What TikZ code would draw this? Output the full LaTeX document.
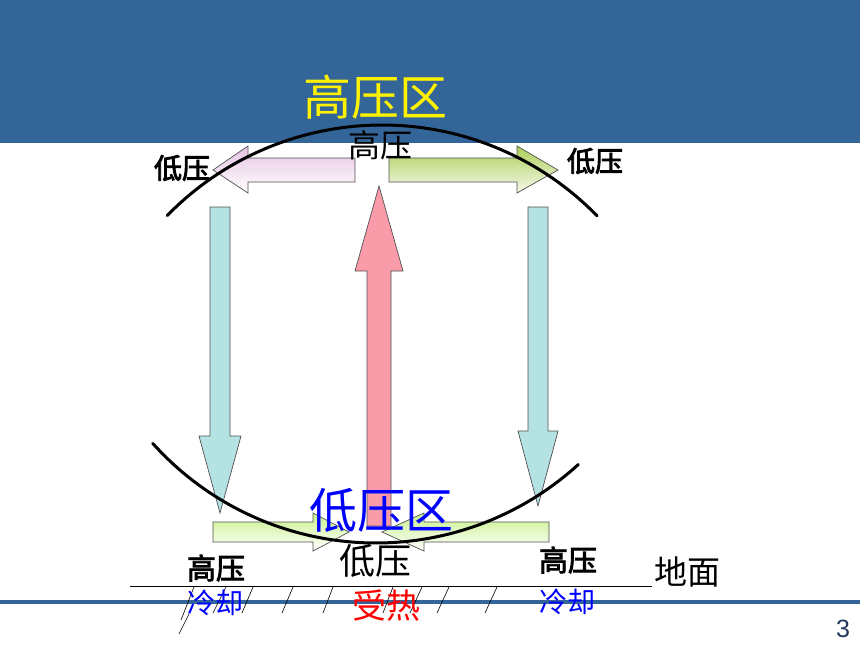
\documentclass[tikz,border=0pt]{standalone}
\usepackage{fontspec}
\newfontfamily\cjk{Noto Sans CJK SC}
\newfontfamily\cjkbf[FakeBold=3]{Noto Sans CJK SC}
\setsansfont{Liberation Sans}
\usetikzlibrary{calc,positioning}
\definecolor{slideblue}{RGB}{52,101,153}
\definecolor{coldfill}{RGB}{181,226,226}
\definecolor{warmfill}{RGB}{250,155,170}
\definecolor{edgegray}{RGB}{80,80,80}
\definecolor{pagenum}{RGB}{35,55,90}
\tikzset{>=latex}

\begin{document}
\begin{tikzpicture}[x=1pt, y=-1pt, font=\cjk,
    blockarrow/.style={draw=edgegray, line width=0.7pt, line join=miter},
    lbl/.style={inner sep=0pt, font=\cjk\fontsize{#1}{#1}\selectfont},
    lblbf/.style={inner sep=0pt, font=\cjkbf\fontsize{#1}{#1}\selectfont},
    isobar/.style={line width=3pt, line cap=round},
    hatch/.style={line width=0.6pt}]
		\useasboundingbox (0,0) rectangle (860,645);
		\fill[slideblue] (0,0) rectangle (860,143);
		\fill[slideblue] (0,600) rectangle (860,604);
		
		\node[lbl=48, text=yellow] (highzone) at (375,97) {高压区};
		
		\draw[blockarrow, top color={rgb,255:red,230;green,195;blue,228}, bottom color=white]
			(355,158) -- (248,158) -- (248,146) -- (213,170) -- (248,193) -- (248,182) -- (355,182) -- cycle;
		\draw[blockarrow, top color={rgb,255:red,172;green,206;blue,88}, bottom color={rgb,255:red,246;green,249;blue,236}]
			(389,158) -- (517,158) -- (517,146) -- (558,170) -- (517,193) -- (517,182) -- (389,182) -- cycle;
		
		\draw[blockarrow, fill=coldfill]
			(210,207) -- (230,207) -- (230,436) -- (241,436) -- (220,513) -- (199,436) -- (210,436) -- cycle;
		\draw[blockarrow, fill=coldfill]
			(528,207) -- (548,207) -- (548,431) -- (558,431) -- (538,506) -- (518,431) -- (528,431) -- cycle;
		\draw[blockarrow, fill=warmfill]
			(367,526) -- (367,271) -- (355,271) -- (379,186) -- (403,271) -- (391,271) -- (391,526) -- cycle;
		
		\draw[blockarrow, top color={rgb,255:red,200;green,242;blue,140}, bottom color=white]
			(213,522) -- (313,522) -- (313,513) -- (349,532) -- (313,551) -- (313,542) -- (213,542) -- cycle;
		\draw[blockarrow, top color={rgb,255:red,200;green,242;blue,140}, bottom color=white]
			(549,522) -- (424,522) -- (424,513) -- (382,532) -- (424,551) -- (424,542) -- (549,542) -- cycle;
		
		\draw[isobar] (382,425) ++(-135.7:300) arc[start angle=-135.7, end angle=-44.2, radius=300];
		\draw[isobar] (376,243) ++(138.1:300) arc[start angle=138.1, end angle=47.6, radius=300];
		
		\node[lbl=32] (hightop) at (380,145) {高压};
		\node[lblbf=28] (lowleft) at (182,168) {低压};
		\node[lblbf=28] (lowright) at (595,161) {低压};
		
		\node[lbl=48, text=blue] (lowzone) at (381,510) {低压区};
		\node[lbl=36] (lowground) at (375,561) {低压};
		\node[lblbf=29] (highleft) at (216,568) {高压};
		\node[lblbf=29] (highright) at (568,560) {高压};
		\node[lbl=33] (ground) at (687,572) {地面};
		
		\coordinate (groundwest) at (130,586);
		\coordinate (groundeast) at (652,586);
		\draw[line width=0.8pt] (groundwest) -- (groundeast);
		\draw[hatch] (194,587) -- (181,620);
		\draw[hatch] (189,614) -- (179,634);
		\foreach \x/\y in {226/213, 253/242, 293/282, 333/323, 393/383, 422/410, 449/437, 497/485}
			\draw[hatch] (\x,587) -- (\y,613);
		
		\node[lbl=28, text=blue] (coolleft) at (215,603) {冷却};
		\node[lbl=34, text=red] (heated) at (386,606) {受热};
		\node[lbl=28, text=blue] (coolright) at (567,602) {冷却};
		
		\node[inner sep=0pt, text=pagenum, font=\sffamily\fontsize{25}{25}\selectfont] (pageno) at (843,629) {3};
	\end{tikzpicture}
\end{document}
